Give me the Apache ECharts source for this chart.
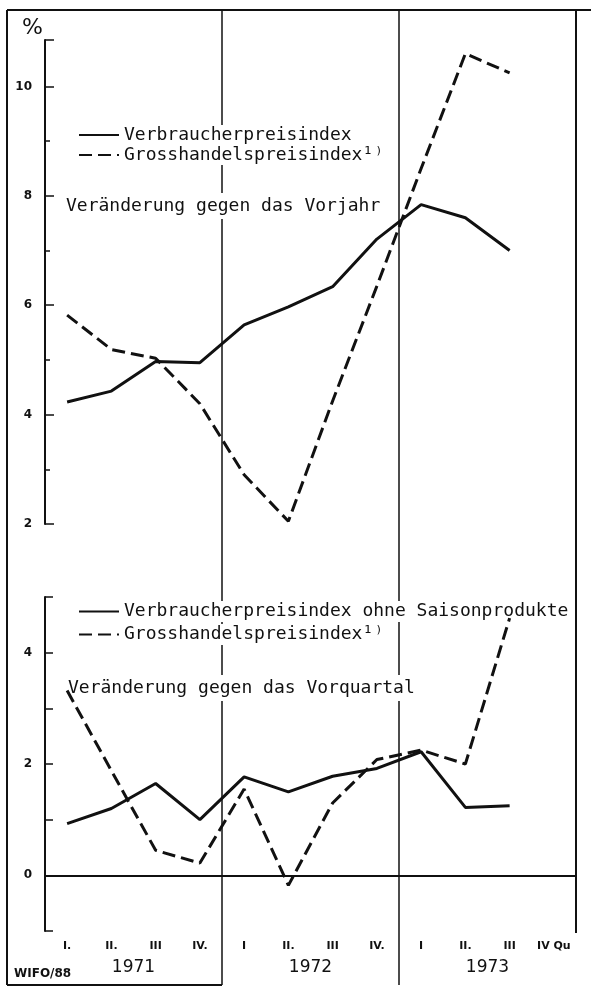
<!DOCTYPE html>
<html>
<head>
<meta charset="utf-8">
<script src="https://cdn.jsdelivr.net/npm/echarts@6/dist/echarts.min.js"></script>
<style>
  html, body { margin: 0; padding: 0; background: #fff; }
  #main { width: 591px; height: 988px; }
</style>
</head>
<body>
<div id="main"></div>
<script>
// Quartale 1971 - 1973
const quarters = ['I.', 'II.', 'III', 'IV.', 'I', 'II.', 'III', 'IV.', 'I', 'II.', 'III', 'IV Qu'];
const years = ['1971', '1972', '1973'];

// Veränderung gegen das Vorjahr (%)
const vpiYoY = [4.23, 4.43, 4.97, 4.95, 5.64, 5.97, 6.34, 7.21, 7.84, 7.6, 7.0, null];
const ghpiYoY = [5.82, 5.19, 5.03, 4.2, 2.9, 2.05, 4.25, 6.35, 8.5, 10.6, 10.25, null];

// Veränderung gegen das Vorquartal (%)
const vpiQoQ = [0.93, 1.2, 1.65, 1.0, 1.77, 1.5, 1.78, 1.92, 2.22, 1.22, 1.25, null];
const ghpiQoQ = [3.32, 1.88, 0.45, 0.22, 1.55, -0.18, 1.3, 2.08, 2.25, 2.0, 4.62, null];

const topTicks = [2, 4, 6, 8, 10];
const bottomTicks = [0, 2, 4];

(() => {
    window.addEventListener('load', () => {
        let chart = echarts.init(document.getElementById('main'));
        const ink = '#111';
        const mono = 'DejaVu Sans Mono';
        const solid = { color: ink, width: 3, type: 'solid' };
        const dashed = { color: ink, width: 3, type: [13, 6] };
        const noSymbol = { color: 'rgba(0,0,0,0)', borderWidth: 0, opacity: 0 };

        let option = {
            backgroundColor: '#fff',
            animation: false,
            title: [
                { text: '%', left: 17, top: 12, textStyle: { fontSize: 22, fontWeight: 'normal', color: ink, fontFamily: 'DejaVu Sans' } },
                { text: 'Veränderung gegen das Vorjahr', left: 66, top: 193, padding: [4, 0], backgroundColor: '#fff',
                  textStyle: { fontSize: 18, fontWeight: 'normal', color: ink, fontFamily: mono } },
                { text: 'Veränderung gegen das Vorquartal', left: 68, top: 675, padding: [4, 0], backgroundColor: '#fff',
                  textStyle: { fontSize: 18, fontWeight: 'normal', color: ink, fontFamily: mono } },
                { text: 'WIFO/88', left: 14, top: 968, padding: 0,
                  textStyle: { fontSize: 12, fontWeight: 'bold', color: ink, fontFamily: 'DejaVu Sans' } }
            ],
            legend: [
                {
                    data: ['Verbraucherpreisindex', 'Grosshandelspreisindex¹⁾'],
                    orient: 'vertical', left: 78, top: 125, padding: 0, itemGap: 0,
                    itemWidth: 40, itemHeight: 14, itemStyle: noSymbol,
                    textStyle: { fontSize: 18, color: ink, fontFamily: mono, lineHeight: 20, backgroundColor: '#fff' }
                },
                {
                    data: ['Verbraucherpreisindex ohne Saisonprodukte', 'Grosshandelspreisindex¹⁾'],
                    orient: 'vertical', left: 78, top: 601, padding: 0, itemGap: 2,
                    itemWidth: 40, itemHeight: 14, itemStyle: noSymbol,
                    textStyle: { fontSize: 18, color: ink, fontFamily: mono, lineHeight: 21, backgroundColor: '#fff' }
                }
            ],
            grid: [
                { left: 45, right: 15, top: 40, bottom: 464 },
                { left: 45, right: 15, top: 597, bottom: 57 }
            ],
            xAxis: [
                { type: 'category', gridIndex: 0, data: quarters, boundaryGap: true,
                  axisLine: { show: false }, axisTick: { show: false }, axisLabel: { show: false } },
                { type: 'category', gridIndex: 1, data: quarters, boundaryGap: true,
                  axisLine: { lineStyle: { color: ink, width: 2 } },
                  axisTick: { inside: true, length: 8, lineStyle: { color: ink, width: 1.5 } },
                  axisLabel: { color: ink, fontSize: 11, fontWeight: 'bold', margin: 10, fontFamily: 'DejaVu Sans' } },
                { type: 'category', gridIndex: 1, data: years, boundaryGap: true, position: 'bottom', offset: 22,
                  axisLine: { show: false }, axisTick: { show: false },
                  axisLabel: { color: ink, fontSize: 17, margin: 6, fontFamily: 'DejaVu Sans' } }
            ],
            yAxis: [
                { type: 'value', gridIndex: 0, min: 2, max: 10.85, interval: 2,
                  axisLine: { show: true, lineStyle: { color: ink, width: 2 } },
                  axisTick: { show: true, inside: true, length: 9, lineStyle: { color: ink, width: 1.5 } },
                  minorTick: { show: true, splitNumber: 2, length: 5, lineStyle: { color: ink, width: 1.5 } },
                  splitLine: { show: false },
                  axisLabel: { color: ink, fontSize: 12, fontWeight: 'bold', margin: 13, fontFamily: 'DejaVu Sans',
                               showMaxLabel: false,
                               formatter: v => topTicks.includes(v) ? String(v) : '' } },
                { type: 'value', gridIndex: 1, min: -1, max: 5, interval: 1,
                  axisLine: { show: true, lineStyle: { color: ink, width: 2 } },
                  axisTick: { show: true, inside: true, length: 8, lineStyle: { color: ink, width: 1.5 } },
                  splitLine: { show: false },
                  axisLabel: { color: ink, fontSize: 12, fontWeight: 'bold', margin: 13, fontFamily: 'DejaVu Sans',
                               formatter: v => bottomTicks.includes(v) ? String(v) : '' } }
            ],
            series: [
                { name: 'Verbraucherpreisindex', type: 'line', xAxisIndex: 0, yAxisIndex: 0, data: vpiYoY,
                  symbol: 'none', showSymbol: false, lineStyle: solid, itemStyle: { color: ink }, z: 10 },
                { name: 'Grosshandelspreisindex¹⁾', type: 'line', xAxisIndex: 0, yAxisIndex: 0, data: ghpiYoY,
                  symbol: 'none', showSymbol: false, lineStyle: dashed, itemStyle: { color: ink }, z: 10 },
                { name: 'Verbraucherpreisindex ohne Saisonprodukte', type: 'line', xAxisIndex: 1, yAxisIndex: 1, data: vpiQoQ,
                  symbol: 'none', showSymbol: false, lineStyle: solid, itemStyle: { color: ink }, z: 10,
                  markLine: { silent: true, symbol: 'none', label: { show: false },
                              lineStyle: { color: ink, type: 'solid', width: 1.5 }, data: [{ yAxis: 0 }] } },
                { name: 'Grosshandelspreisindex¹⁾', type: 'line', xAxisIndex: 1, yAxisIndex: 1, data: ghpiQoQ,
                  symbol: 'none', showSymbol: false, lineStyle: dashed, itemStyle: { color: ink }, z: 10 }
            ]
        };
        chart.setOption(option);

        // Jahrestrennlinien und Rahmen aus der Achsenskala
        const px = i => chart.convertToPixel({ xAxisIndex: 1 }, i);
        const b1 = (px(3) + px(4)) / 2;
        const b2 = (px(7) + px(8)) / 2;
        const right = px(11) + (px(11) - px(10)) / 2;
        const line = (x1, y1, x2, y2, w) => ({
            type: 'line', z: 1, silent: true,
            shape: { x1: x1, y1: y1, x2: x2, y2: y2 },
            style: { stroke: ink, lineWidth: w }
        });
        chart.setOption({
            graphic: [
                line(b1, 10, b1, 985, 1.5),
                line(b2, 10, b2, 985, 1.5),
                line(right, 10, right, 933, 2),
                line(7, 10, 591, 10, 2),
                line(7, 10, 7, 985, 2),
                line(7, 985, b1, 985, 2)
            ]
        });
    });
})();
</script>
</body>
</html>
